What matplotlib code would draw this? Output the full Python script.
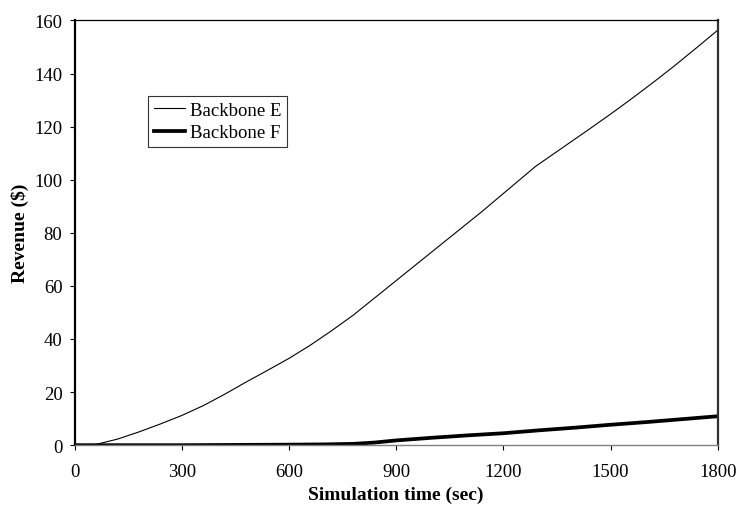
import matplotlib
matplotlib.use("Agg")
import matplotlib.pyplot as plt

plt.rcParams['font.family'] = ['Liberation Serif', 'DejaVu Serif']

time_e = [0, 30, 60, 120, 180, 240, 300, 360, 420, 480, 540, 600, 660, 720, 780,
          840, 900, 960, 1020, 1080, 1140, 1200, 1260, 1290, 1320, 1380, 1440,
          1500, 1560, 1620, 1680, 1740, 1800]
backbone_e = [0, 0, 0.3, 2.3, 5.0, 8.0, 11.2, 14.9, 19.2, 23.8, 28.2, 32.7, 37.7,
              43.2, 49.0, 55.5, 62.0, 68.5, 75.0, 81.5, 88.0, 94.8, 101.6, 105.0,
              107.8, 113.4, 119.0, 124.7, 130.6, 136.7, 143.0, 149.6, 156.3]

time_f = [0, 300, 600, 700, 780, 840, 900, 1000, 1100, 1200, 1300, 1400, 1500,
          1600, 1700, 1800]
backbone_f = [0, 0, 0.2, 0.3, 0.5, 1.0, 1.8, 2.8, 3.7, 4.5, 5.6, 6.6, 7.7, 8.7,
              9.8, 10.9]

x_ticks = [0, 300, 600, 900, 1200, 1500, 1800]
y_ticks = [0, 20, 40, 60, 80, 100, 120, 140, 160]

fig = plt.figure(figsize=(7.38, 5.06), dpi=100)
ax = fig.add_axes([0.1012, 0.1182, 0.9725 - 0.1012, 0.9577 - 0.1182])

ax.plot(time_e, backbone_e, color='black', lw=0.8, label='Backbone E')
ax.plot(time_f, backbone_f, color='black', lw=2.7, label='Backbone F')

ax.set_xlim(0, 1800)
ax.set_ylim(0, 160)
ax.set_xticks(x_ticks)
ax.set_yticks(y_ticks)
ax.tick_params(axis='both', direction='out', length=3.8, width=0.8,
               labelsize=13.5, colors='black')
ax.tick_params(axis='x', pad=9)
ax.tick_params(axis='y', pad=5)

ax.spines['left'].set_linewidth(1.6)
ax.spines['left'].set_color('black')
ax.spines['top'].set_linewidth(0.9)
ax.spines['top'].set_color('black')
ax.spines['right'].set_linewidth(1.6)
ax.spines['right'].set_color('#303030')
ax.spines['bottom'].set_linewidth(1.0)
ax.spines['bottom'].set_color('#808080')

ax.set_xlabel('Simulation time (sec)', fontsize=14, fontweight='bold', labelpad=4)
ax.set_ylabel('Revenue ($)', fontsize=14, fontweight='bold', labelpad=4)

leg = ax.legend(loc='upper left', bbox_to_anchor=(148 / 738, 1 - 97 / 506),
                bbox_transform=fig.transFigure, fontsize=13.5, frameon=True,
                fancybox=False, shadow=False, handlelength=1.65,
                handletextpad=0.3, borderpad=0.3, labelspacing=0.3,
                borderaxespad=0)
leg.get_frame().set_edgecolor('black')
leg.get_frame().set_linewidth(0.8)

fig.savefig('out.png', dpi=100)
